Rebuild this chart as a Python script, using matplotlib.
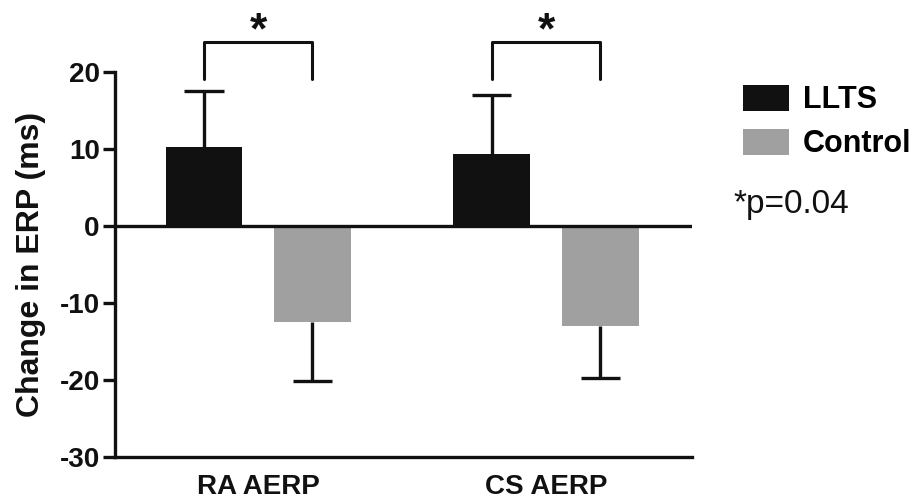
import matplotlib
matplotlib.use("Agg")
import numpy as np
from matplotlib import pyplot as plt
from matplotlib.patches import Patch

# data
groups = ['RA AERP', 'CS AERP']
llts_mean = [10.2, 9.3]
llts_err = [7.3, 7.6]
control_mean = [-12.5, -13.0]
control_err = [7.7, 6.8]
yticks = [-30, -20, -10, 0, 10, 20]

black = '#111111'
grey = '#a0a0a0'

plt.rcParams['font.family'] = ['Liberation Sans', 'DejaVu Sans']
plt.rcParams['axes.unicode_minus'] = False

fig = plt.figure(figsize=(9.16, 5.04), dpi=100)
ax = fig.add_axes([115 / 916, 1 - 457 / 504, 577 / 916, 385.5 / 504])

x = np.arange(len(groups))
w = 0.267
off = 0.188
cap = 0.068

ax.bar(x - off, llts_mean, w, color=black, zorder=2)
ax.bar(x + off, control_mean, w, color=grey, zorder=2)

# one-sided error bars, away from zero, cap only at the far end
llts_top = np.array(llts_mean) + np.array(llts_err)
ctrl_bot = np.array(control_mean) - np.array(control_err)
ax.vlines(x - off, llts_mean, llts_top, color=black, lw=2.4, zorder=3)
ax.hlines(llts_top, x - off - cap, x - off + cap, color=black, lw=2.4, zorder=3)
ax.vlines(x + off, control_mean, ctrl_bot, color=black, lw=2.4, zorder=3)
ax.hlines(ctrl_bot, x + off - cap, x + off + cap, color=black, lw=2.4, zorder=3)

ax.axhline(0, color=black, lw=2.4, zorder=4)

# significance brackets
for xi in x:
    xl, xr = xi - off, xi + off
    ax.plot([xl, xl, xr, xr], [19.0, 23.8, 23.8, 19.0], color=black, lw=2.2,
            clip_on=False, solid_capstyle='round')
    ax.text(xi, 25.2, '*', ha='center', va='center', fontsize=32,
            fontweight='bold', color=black, clip_on=False)

ax.set_xlim(-0.497, 1.507)
ax.set_ylim(-30, 20)
ax.set_yticks(yticks)
ax.set_xticks(x)
ax.set_xticklabels(groups, fontsize=20, fontweight='bold', color=black)
ax.tick_params(axis='x', length=0, pad=12)
ax.tick_params(axis='y', length=9, width=2.4, pad=2, labelsize=20, color=black,
               labelcolor=black)
for lab in ax.get_yticklabels():
    lab.set_fontweight('bold')

for side in ['top', 'right']:
    ax.spines[side].set_visible(False)
for side in ['left', 'bottom']:
    ax.spines[side].set_linewidth(2.4)
    ax.spines[side].set_color(black)

ax.set_ylabel('Change in ERP (ms)', fontsize=23, fontweight='bold', color=black,
              labelpad=10)

handles = [Patch(facecolor=black, label='LLTS'), Patch(facecolor=grey, label='Control')]
leg = fig.legend(handles=handles, loc='upper left', bbox_to_anchor=(728 / 916, 1 - 70 / 504),
                 frameon=False, borderpad=0, handlelength=1.5, handleheight=0.9,
                 handletextpad=0.45, labelspacing=0.45, prop={'size': 22, 'weight': 'bold'})

fig.text(733 / 916, 1 - 204 / 504, '*p=0.04', fontsize=24, color=black,
         ha='left', va='center')

fig.savefig('out.png', dpi=100)
